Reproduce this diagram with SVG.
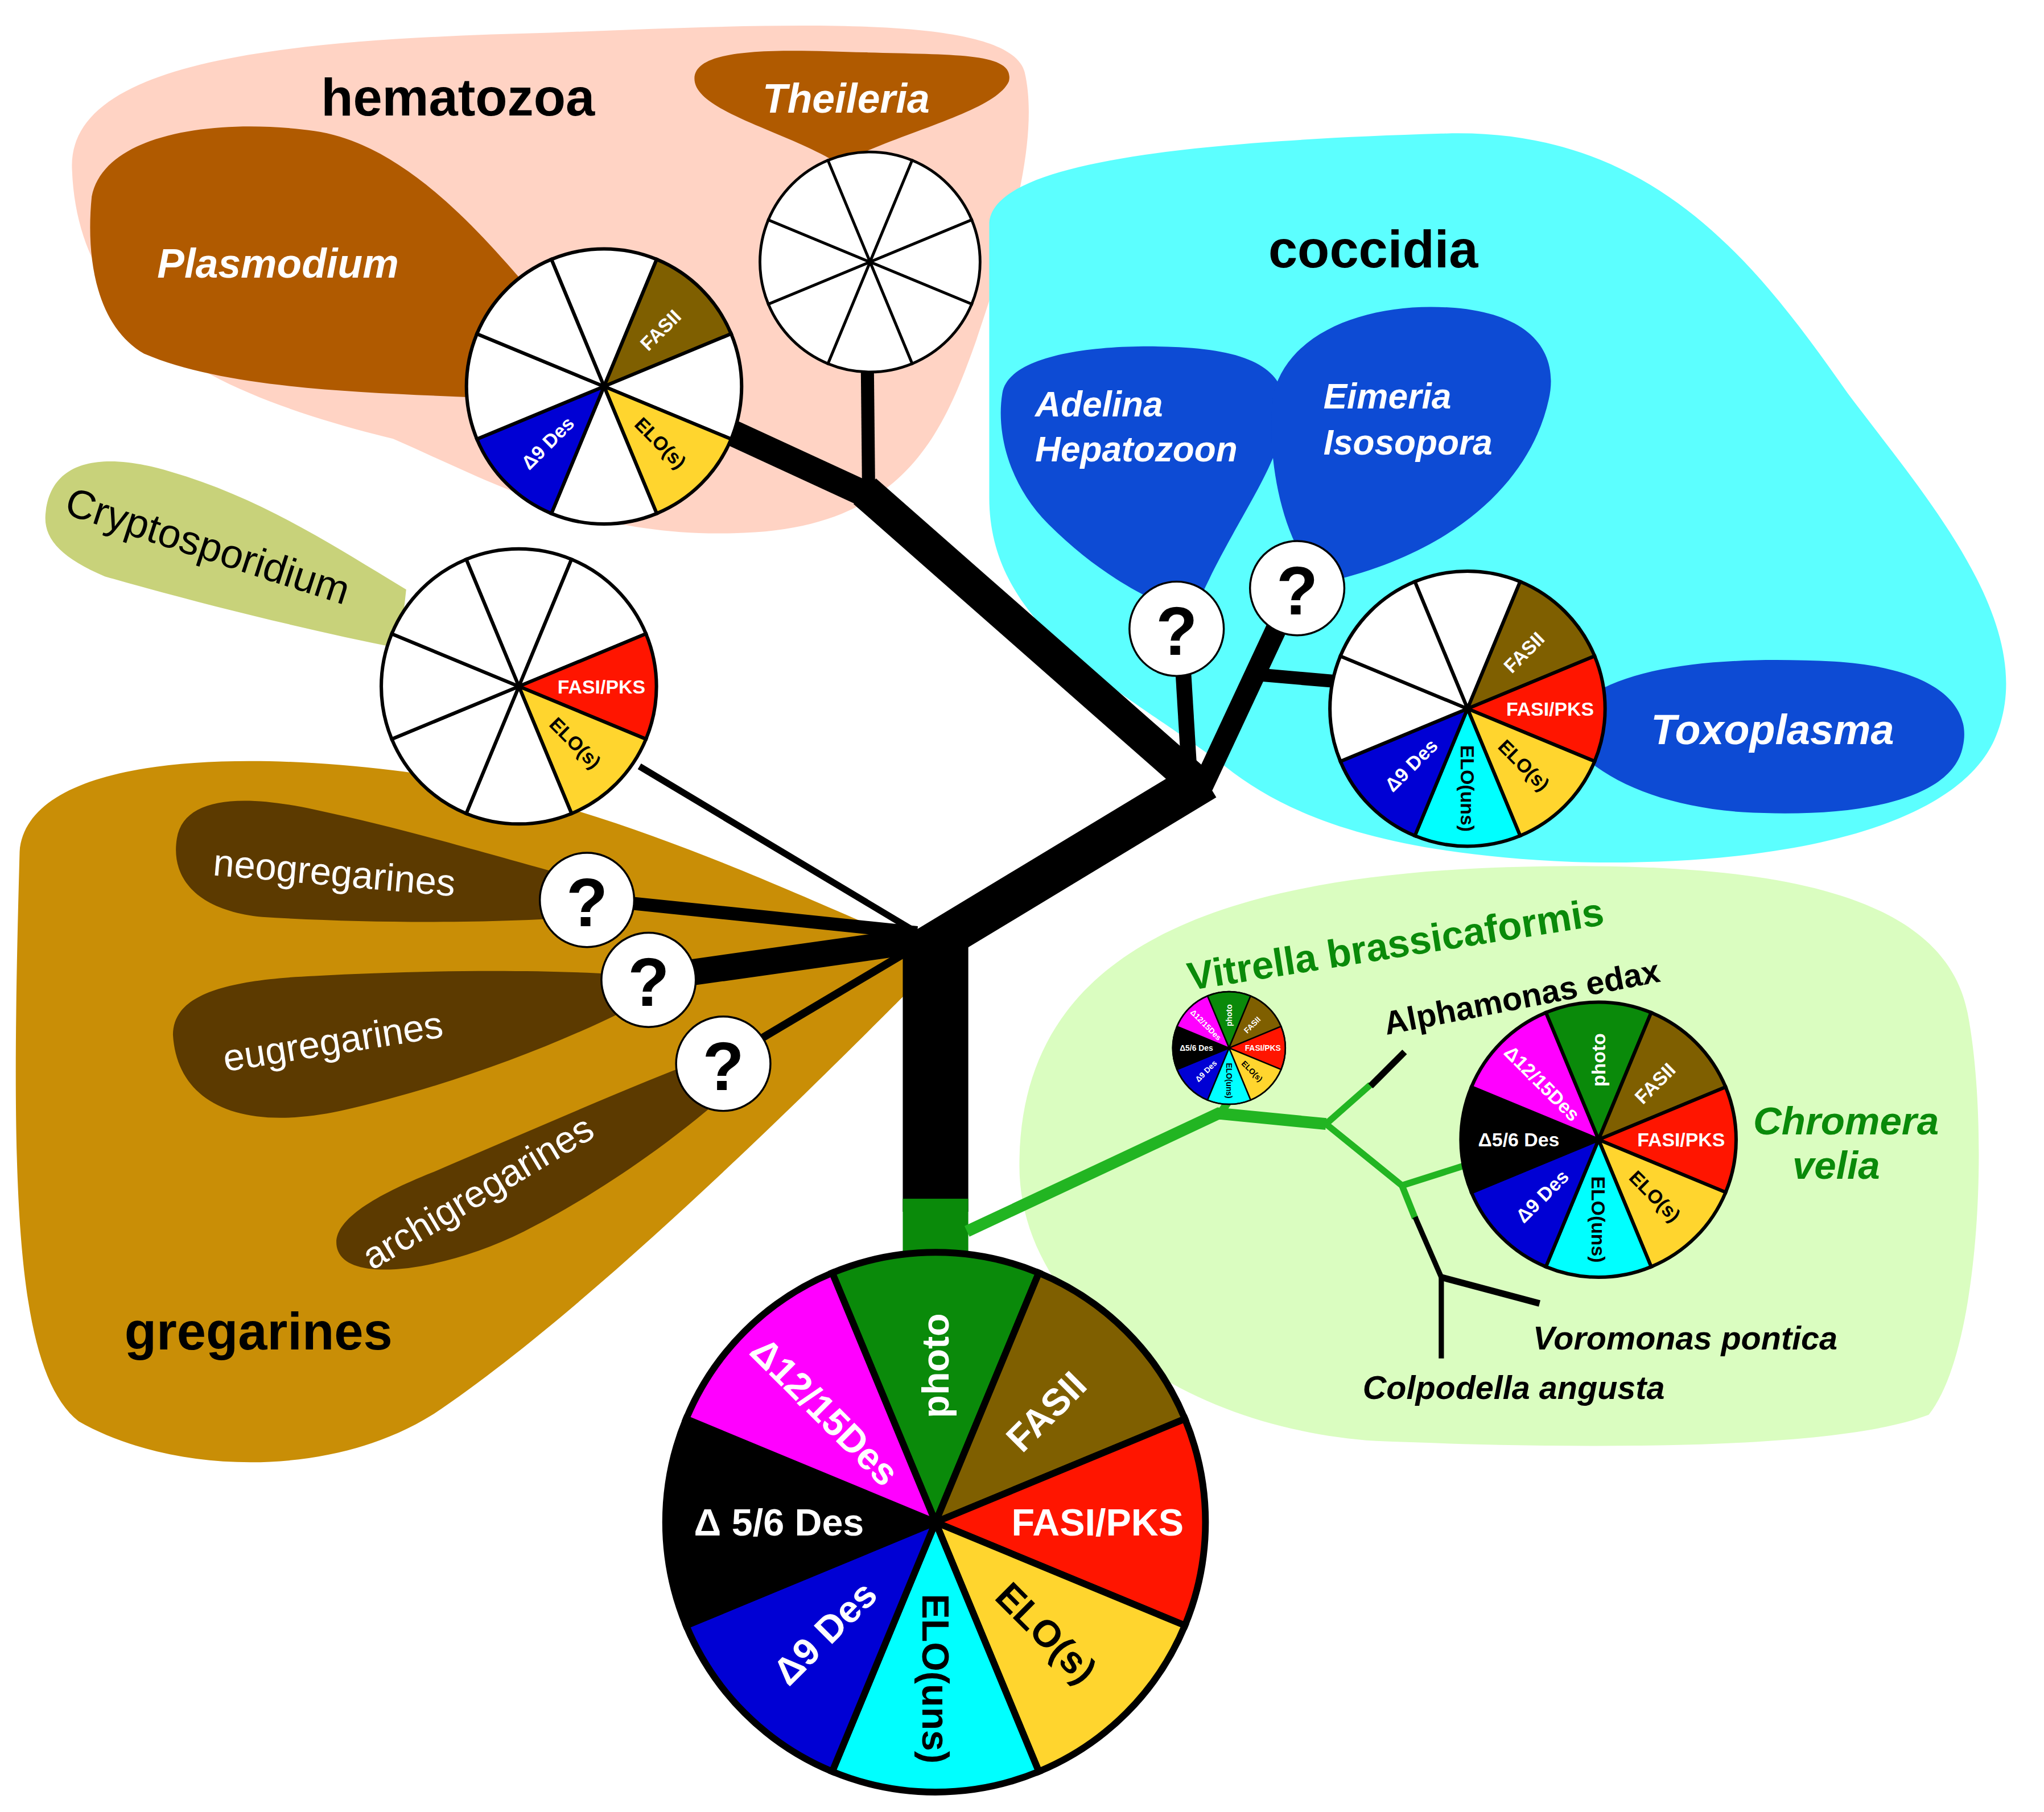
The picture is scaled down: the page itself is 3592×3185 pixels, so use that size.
<svg xmlns="http://www.w3.org/2000/svg" xmlns:xlink="http://www.w3.org/1999/xlink" width="3592" height="3185" viewBox="0 0 3592 3185">
<style>
.pl{font-family:"Liberation Sans",Arial,sans-serif;font-weight:bold;font-size:14px;text-anchor:middle;dominant-baseline:central}
.w{fill:#fff}.k{fill:#000}
.sl{stroke:#000;stroke-width:2.5;vector-effect:non-scaling-stroke}
.t{font-family:"Liberation Sans",Arial,sans-serif;font-weight:bold}
.ti{font-family:"Liberation Sans",Arial,sans-serif;font-weight:bold;font-style:italic;fill:#fff}
.br{stroke:#000;fill:none;stroke-linecap:butt}
.gr{stroke:#22b522;fill:none}
.q{fill:#fff;stroke:#000;stroke-width:1.5}
.qt{font-family:"Liberation Sans",Arial,sans-serif;font-weight:bold;font-size:52px;text-anchor:middle;dominant-baseline:central}
</style>
<defs>
<path id="s" d="M0,0 L-38.27,-92.39 A100,100 0 0 1 38.27,-92.39 Z"/>
</defs>
<rect width="3592" height="3185" fill="#fff"/>
<g transform="scale(2.3026)">
<g id="regions">
<path id="hematozoa" d="M55,130 C50,45 220,30 420,25 C600,18 770,10 782,55 C795,110 765,200 745,260 C720,330 690,405 560,407 C450,410 380,370 300,335 C180,305 60,260 55,130 Z" fill="#FFD3C4"/>
<path id="theileria-blob" d="M530,60 C530,35 600,38 660,40 C730,42 775,40 770,62 C760,85 690,100 640,125 C600,100 530,85 530,60 Z" fill="#B05A00"/>
<path id="plasmodium-blob" d="M70,150 C80,100 170,90 240,100 C310,110 370,180 420,240 L400,305 C300,300 180,300 110,270 C75,250 65,200 70,150 Z" fill="#B05A00"/>
<path id="crypto-blob" d="M35,390 C40,350 80,345 130,360 C200,380 260,420 310,450 L305,495 C230,480 150,460 80,440 C45,425 32,410 35,390 Z" fill="#C8D27A"/>
<path id="coccidia" d="M755,170 C758,125 900,108 1100,102 C1260,96 1340,200 1410,300 C1470,380 1560,480 1522,565 C1490,635 1350,662 1200,658 C1060,652 985,625 935,585 C855,525 755,480 755,380 Z" fill="#5CFFFF"/>
<path id="adelina-blob" d="M765,300 C770,270 840,262 900,265 C960,268 985,285 980,320 C975,360 940,400 910,470 C880,460 840,440 800,400 C770,370 760,330 765,300 Z" fill="#0D4BD4"/>
<path id="eimeria-blob" d="M972,300 C985,250 1050,230 1110,235 C1170,240 1190,270 1182,305 C1170,360 1120,420 1010,445 C980,420 965,350 972,300 Z" fill="#0D4BD4"/>
<path id="toxo-blob" d="M1190,555 C1215,510 1300,500 1400,505 C1480,510 1505,540 1498,570 C1490,610 1420,625 1330,620 C1260,615 1210,590 1190,555 Z" fill="#0D4BD4"/>
<path id="gregarines" d="M15,650 C20,585 150,570 300,588 C450,606 600,680 692,718 L690,760 C620,830 450,1000 330,1080 C250,1130 130,1125 60,1085 C10,1045 8,900 15,650 Z" fill="#C98E06"/>
<path id="neo-blob" d="M135,640 C140,610 180,605 240,618 C320,635 400,660 440,670 L440,700 C380,705 280,705 200,700 C150,695 130,670 135,640 Z" fill="#5C3A00"/>
<path id="eu-blob" d="M132,790 C132,760 170,748 240,745 C330,740 430,740 490,745 L480,770 C420,800 340,830 260,848 C180,865 135,840 132,790 Z" fill="#5C3A00"/>
<path id="archi-blob" d="M258,955 C250,935 280,915 330,895 C400,865 480,830 545,805 L570,820 C530,860 460,910 400,940 C340,970 268,980 258,955 Z" fill="#5C3A00"/>
<path id="chromera-region" d="M778,890 C778,740 900,670 1150,662 C1350,656 1485,680 1502,775 C1518,860 1512,1030 1472,1080 C1400,1108 1200,1106 1050,1100 C900,1090 778,1000 778,890 Z" fill="#DAFDC0"/>
</g>
<g id="connectors">
<line class="br" x1="714" y1="712" x2="714" y2="925" stroke-width="50"/>
<line x1="714" y1="915" x2="714" y2="962" stroke="#0A8A0A" stroke-width="50"/>
<line class="br" x1="700" y1="728" x2="920" y2="595" stroke-width="32" stroke-linecap="round"/>
<line class="br" x1="918" y1="602" x2="660" y2="375" stroke-width="26" stroke-linecap="round"/>
<line class="br" x1="662" y1="378" x2="558" y2="330" stroke-width="20"/>
<line class="br" x1="663" y1="380" x2="662" y2="283" stroke-width="10"/>
<line class="br" x1="908" y1="595" x2="903" y2="512" stroke-width="12"/>
<line class="br" x1="918" y1="600" x2="975" y2="478" stroke-width="16"/>
<line class="br" x1="960" y1="515" x2="1018" y2="520" stroke-width="10"/>
<line class="br" x1="700" y1="712" x2="448" y2="686" stroke-width="10"/>
<line class="br" x1="700" y1="718" x2="495" y2="747" stroke-width="20"/>
<line class="br" x1="700" y1="722" x2="552" y2="810" stroke-width="6"/>
<line class="br" x1="700" y1="712" x2="488" y2="585" stroke-width="5"/>
<polyline class="gr" points="738,940 930,850 1012,858" stroke-width="9"/>
<line class="gr" x1="930" y1="852" x2="938" y2="840" stroke-width="6"/>
<line class="gr" x1="1012" y1="858" x2="1046" y2="828" stroke-width="5"/>
<line class="br" x1="1046" y1="829" x2="1072" y2="803" stroke-width="5"/>
<polyline class="gr" points="1012,858 1070,905 1117,890" stroke-width="5"/>
<line class="gr" x1="1070" y1="905" x2="1080" y2="930" stroke-width="5"/>
<line class="br" x1="1080" y1="929" x2="1100" y2="975" stroke-width="4"/>
<line class="br" x1="1100" y1="975" x2="1175" y2="995" stroke-width="5"/>
<line class="br" x1="1100" y1="975" x2="1100" y2="1037" stroke-width="4"/>
</g>
<g id="pie-big" transform="translate(714,1162) scale(2.06)">
<use href="#s" class="sl" fill="#0A8A0A"/>
<use href="#s" class="sl" fill="#7F5F00" transform="rotate(45)"/>
<use href="#s" class="sl" fill="#FF1500" transform="rotate(90)"/>
<use href="#s" class="sl" fill="#FFD52E" transform="rotate(135)"/>
<use href="#s" class="sl" fill="#00FFFF" transform="rotate(180)"/>
<use href="#s" class="sl" fill="#0000D4" transform="rotate(225)"/>
<use href="#s" class="sl" fill="#000" transform="rotate(270)"/>
<use href="#s" class="sl" fill="#FF00FF" transform="rotate(315)"/>
<circle r="100" fill="none" class="sl"/>
<text class="pl w" font-size="15" transform="rotate(0) translate(0,-58) rotate(-90)">photo</text>
<text class="pl w" font-size="15" transform="rotate(45) translate(0,-58) rotate(-90)">FASII</text>
<text class="pl w" font-size="15" transform="rotate(90) translate(0,-60) rotate(-90)">FASI/PKS</text>
<text class="pl k" font-size="15" transform="rotate(135) translate(0,-58) rotate(-90)">ELO(s)</text>
<text class="pl k" font-size="15" transform="rotate(180) translate(0,-58) rotate(-90)">ELO(uns)</text>
<text class="pl w" font-size="15" transform="rotate(225) translate(0,-58) rotate(90)">Δ9 Des</text>
<text class="pl w" font-size="15" transform="rotate(270) translate(0,-58) rotate(90)">Δ 5/6 Des</text>
<text class="pl w" font-size="15" transform="rotate(315) translate(0,-58) rotate(90)">Δ12/15Des</text>
</g>
<g id="pie-chromera" transform="translate(1220,870) scale(1.05)">
<use href="#s" class="sl" fill="#0A8A0A"/>
<use href="#s" class="sl" fill="#7F5F00" transform="rotate(45)"/>
<use href="#s" class="sl" fill="#FF1500" transform="rotate(90)"/>
<use href="#s" class="sl" fill="#FFD52E" transform="rotate(135)"/>
<use href="#s" class="sl" fill="#00FFFF" transform="rotate(180)"/>
<use href="#s" class="sl" fill="#0000D4" transform="rotate(225)"/>
<use href="#s" class="sl" fill="#000" transform="rotate(270)"/>
<use href="#s" class="sl" fill="#FF00FF" transform="rotate(315)"/>
<circle r="100" fill="none" class="sl"/>
<text class="pl w" transform="rotate(0) translate(0,-58) rotate(-90)">photo</text>
<text class="pl w" transform="rotate(45) translate(0,-58) rotate(-90)">FASII</text>
<text class="pl w" transform="rotate(90) translate(0,-60) rotate(-90)">FASI/PKS</text>
<text class="pl k" transform="rotate(135) translate(0,-58) rotate(-90)">ELO(s)</text>
<text class="pl k" transform="rotate(180) translate(0,-58) rotate(-90)">ELO(uns)</text>
<text class="pl w" transform="rotate(225) translate(0,-58) rotate(90)">Δ9 Des</text>
<text class="pl w" transform="rotate(270) translate(0,-58) rotate(90)">Δ5/6 Des</text>
<text class="pl w" transform="rotate(315) translate(0,-58) rotate(90)">Δ12/15Des</text>
</g>
<g id="pie-vitrella" transform="translate(938,800) scale(0.43)">
<use href="#s" class="sl" fill="#0A8A0A"/>
<use href="#s" class="sl" fill="#7F5F00" transform="rotate(45)"/>
<use href="#s" class="sl" fill="#FF1500" transform="rotate(90)"/>
<use href="#s" class="sl" fill="#FFD52E" transform="rotate(135)"/>
<use href="#s" class="sl" fill="#00FFFF" transform="rotate(180)"/>
<use href="#s" class="sl" fill="#0000D4" transform="rotate(225)"/>
<use href="#s" class="sl" fill="#000" transform="rotate(270)"/>
<use href="#s" class="sl" fill="#FF00FF" transform="rotate(315)"/>
<circle r="100" fill="none" class="sl"/>
<text class="pl w" transform="rotate(0) translate(0,-58) rotate(-90)">photo</text>
<text class="pl w" transform="rotate(45) translate(0,-58) rotate(-90)">FASII</text>
<text class="pl w" transform="rotate(90) translate(0,-60) rotate(-90)">FASI/PKS</text>
<text class="pl k" transform="rotate(135) translate(0,-58) rotate(-90)">ELO(s)</text>
<text class="pl k" transform="rotate(180) translate(0,-58) rotate(-90)">ELO(uns)</text>
<text class="pl w" transform="rotate(225) translate(0,-58) rotate(90)">Δ9 Des</text>
<text class="pl w" transform="rotate(270) translate(0,-58) rotate(90)">Δ5/6 Des</text>
<text class="pl w" transform="rotate(315) translate(0,-58) rotate(90)">Δ12/15Des</text>
</g>
<g id="pie-toxoplasma" transform="translate(1120,541) scale(1.05)">
<use href="#s" class="sl" fill="#fff"/>
<use href="#s" class="sl" fill="#7F5F00" transform="rotate(45)"/>
<use href="#s" class="sl" fill="#FF1500" transform="rotate(90)"/>
<use href="#s" class="sl" fill="#FFD52E" transform="rotate(135)"/>
<use href="#s" class="sl" fill="#00FFFF" transform="rotate(180)"/>
<use href="#s" class="sl" fill="#0000D4" transform="rotate(225)"/>
<use href="#s" class="sl" fill="#fff" transform="rotate(270)"/>
<use href="#s" class="sl" fill="#fff" transform="rotate(315)"/>
<circle r="100" fill="none" class="sl"/>
<text class="pl w" transform="rotate(45) translate(0,-58) rotate(-90)">FASII</text>
<text class="pl w" transform="rotate(90) translate(0,-60) rotate(-90)">FASI/PKS</text>
<text class="pl k" transform="rotate(135) translate(0,-58) rotate(-90)">ELO(s)</text>
<text class="pl k" transform="rotate(180) translate(0,-58) rotate(-90)">ELO(uns)</text>
<text class="pl w" transform="rotate(225) translate(0,-58) rotate(90)">Δ9 Des</text>
</g>
<g id="pie-plasmodium" transform="translate(461,295) scale(1.05)">
<use href="#s" class="sl" fill="#fff"/>
<use href="#s" class="sl" fill="#7F5F00" transform="rotate(45)"/>
<use href="#s" class="sl" fill="#fff" transform="rotate(90)"/>
<use href="#s" class="sl" fill="#FFD52E" transform="rotate(135)"/>
<use href="#s" class="sl" fill="#fff" transform="rotate(180)"/>
<use href="#s" class="sl" fill="#0000D4" transform="rotate(225)"/>
<use href="#s" class="sl" fill="#fff" transform="rotate(270)"/>
<use href="#s" class="sl" fill="#fff" transform="rotate(315)"/>
<circle r="100" fill="none" class="sl"/>
<text class="pl w" transform="rotate(45) translate(0,-58) rotate(-90)">FASII</text>
<text class="pl k" transform="rotate(135) translate(0,-58) rotate(-90)">ELO(s)</text>
<text class="pl w" transform="rotate(225) translate(0,-58) rotate(90)">Δ9 Des</text>
</g>
<g id="pie-theileria" transform="translate(664,200) scale(0.84)">
<use href="#s" class="sl" fill="#fff"/>
<use href="#s" class="sl" fill="#fff" transform="rotate(45)"/>
<use href="#s" class="sl" fill="#fff" transform="rotate(90)"/>
<use href="#s" class="sl" fill="#fff" transform="rotate(135)"/>
<use href="#s" class="sl" fill="#fff" transform="rotate(180)"/>
<use href="#s" class="sl" fill="#fff" transform="rotate(225)"/>
<use href="#s" class="sl" fill="#fff" transform="rotate(270)"/>
<use href="#s" class="sl" fill="#fff" transform="rotate(315)"/>
<circle r="100" fill="none" class="sl"/>
</g>
<g id="pie-crypto" transform="translate(396,524) scale(1.05)">
<use href="#s" class="sl" fill="#fff"/>
<use href="#s" class="sl" fill="#fff" transform="rotate(45)"/>
<use href="#s" class="sl" fill="#FF1500" transform="rotate(90)"/>
<use href="#s" class="sl" fill="#FFD52E" transform="rotate(135)"/>
<use href="#s" class="sl" fill="#fff" transform="rotate(180)"/>
<use href="#s" class="sl" fill="#fff" transform="rotate(225)"/>
<use href="#s" class="sl" fill="#fff" transform="rotate(270)"/>
<use href="#s" class="sl" fill="#fff" transform="rotate(315)"/>
<circle r="100" fill="none" class="sl"/>
<text class="pl w" transform="rotate(90) translate(0,-60) rotate(-90)">FASI/PKS</text>
<text class="pl k" transform="rotate(135) translate(0,-58) rotate(-90)">ELO(s)</text>
</g>
<g id="questions">
<g id="q-neo"><circle class="q" cx="448" cy="687" r="36"/><text class="qt" x="448" y="689">?</text></g>
<g id="q-eu"><circle class="q" cx="495" cy="748" r="36"/><text class="qt" x="495" y="750">?</text></g>
<g id="q-archi"><circle class="q" cx="552" cy="812" r="36"/><text class="qt" x="552" y="814">?</text></g>
<g id="q-adelina"><circle class="q" cx="898" cy="480" r="36"/><text class="qt" x="898" y="482">?</text></g>
<g id="q-eimeria"><circle class="q" cx="990" cy="449" r="36"/><text class="qt" x="990" y="451">?</text></g>
</g>
<g id="labels">
<text class="t" x="245" y="88" font-size="40">hematozoa</text>
<text class="t" x="968" y="204" font-size="40">coccidia</text>
<text class="t" x="95" y="1030" font-size="40">gregarines</text>
<text class="ti" x="582" y="86" font-size="31">Theileria</text>
<text class="ti" x="120" y="212" font-size="31">Plasmodium</text>
<text font-family="Liberation Sans,Arial,sans-serif" font-size="31" transform="translate(48,392) rotate(18)">Cryptosporidium</text>
<text class="ti" x="790" y="318" font-size="27">Adelina</text>
<text class="ti" x="790" y="352" font-size="27">Hepatozoon</text>
<text class="ti" x="1010" y="312" font-size="27">Eimeria</text>
<text class="ti" x="1010" y="347" font-size="27">Isosopora</text>
<text class="ti" x="1260" y="568" font-size="32">Toxoplasma</text>
<text font-family="Liberation Sans,Arial,sans-serif" font-size="29" fill="#fff" transform="translate(162,668) rotate(5)">neogregarines</text>
<text font-family="Liberation Sans,Arial,sans-serif" font-size="29" fill="#fff" transform="translate(172,818) rotate(-9)">eugregarines</text>
<text font-family="Liberation Sans,Arial,sans-serif" font-size="29" fill="#fff" transform="translate(284,970) rotate(-31)">archigregarines</text>
<text class="t" font-size="30" fill="#0A8A0A" transform="translate(908,756) rotate(-9)">Vitrella brassicaformis</text>
<text class="t" font-size="25" transform="translate(1058,790) rotate(-11)">Alphamonas edax</text>
<text class="t" font-size="30" font-style="italic" fill="#0A8A0A" x="1338" y="866">Chromera</text>
<text class="t" font-size="30" font-style="italic" fill="#0A8A0A" x="1368" y="900">velia</text>
<text class="t" font-size="25" font-style="italic" x="1170" y="1030">Voromonas pontica</text>
<text class="t" font-size="25" font-style="italic" x="1040" y="1068">Colpodella angusta</text>
</g>
</g>
</svg>
